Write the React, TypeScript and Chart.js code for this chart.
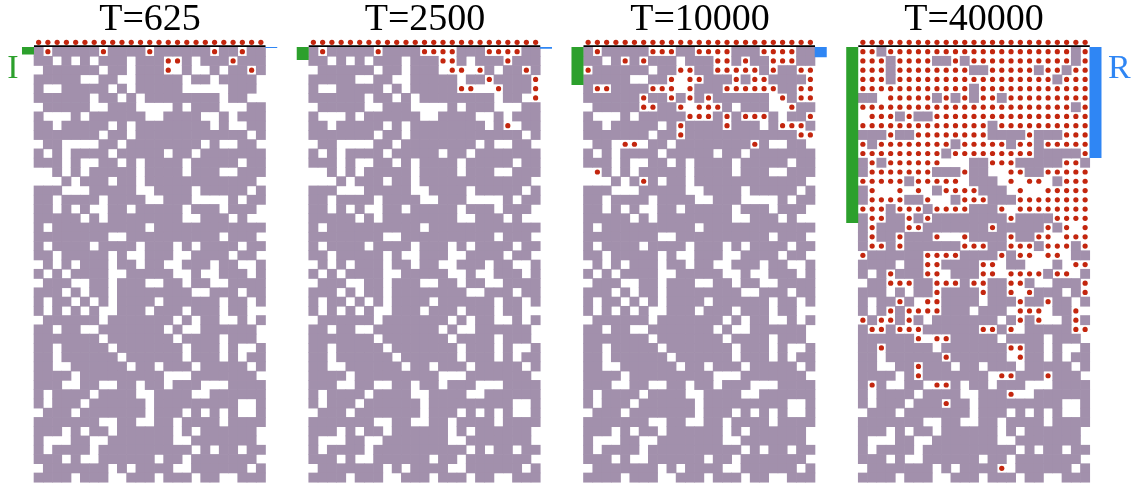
import React, { useEffect, useRef } from "react";
import { Chart, registerables } from "chart.js";

Chart.register(...registerables);

// ---------- data ----------
const TITLES = ["T=625", "T=2500", "T=10000", "T=40000"];
// depth of the green "I" bar and blue "R" bar, in lattice rows
const I_DEPTH = [0.8, 1.4, 4.1, 19.0];
const R_DEPTH = [0.12, 0.2, 1.1, 12.0];
const N_COLS = 25;

// substrate ('#' occupied, '.' empty) as seen at T=625
const BASE_GRID = [
  "#.#####.####.######.##.##",
  "##.#.#.###.###..#.###.###",
  ".######.##.###..#..#.##.#",
  "#####..##..#####.##.####.",
  "#..#####.#.#####.....###.",
  "######.##.#.########.##..",
  ".#####..###....#.###...##",
  "#...#.######..####..#.###",
  "##.#####.#.########.#..##",
  "#######.##.############.#",
  ".##....##.########.#..##.",
  "#.#.####.#####.##.#######",
  "###.#..##.#.####.#####.##",
  "..#.#.#####.####.###..###",
  "...#.###.##.############.",
  "###...#####..####.#####.#",
  "##.####.####..###....#.##",
  "##.#.#..##.#####.###.###.",
  "#####.#.########..###.#..",
  "#.##########.############",
  "########..##########.###.",
  "#.####.####.###.#.####.##",
  "##.#####.#..###..####.##.",
  ".#.#.###.##.##..###.##..#",
  "#.#.####..#####..#..###.#",
  ".###..##.###..##.##..####",
  "###.#.##.########..###.##",
  "#.##.#.#.####.######.##.#",
  "#.#.#.#..###.###.###.##..",
  ".######.#######.#.##..#.#",
  "##.##..#######.#..######.",
  "#######.#######.####.###.",
  "##.#####.#######.###.#..#",
  "##.######.######.###.#.##",
  "##..######.##.###.#####.#",
  "####.#########...#######.",
  "###..##..##.##.###...####",
  "#.####.####..####..######",
  "#.###.######.#########..#",
  ".###.#######.###.#.#.#..#",
  "#######..##..##.####.####",
  "###.#.##.######.#.######.",
  "#...##..#######..#######.",
  "#.####.##########.#.##.##",
  "###.#..######.##.#######.",
  ".#######.#.####..######.#",
  "####.###..###.###.##..###",
];

// red particles: one string of column indices per lattice row (row 0 = top)
const DOTS_T625 = ["1 7 12 19 22", "14 15 21", "14 23"];
const DOTS_T2500 = [
  "1 7 12 13 14 15 19 20 21 22",
  "14 15 21",
  "15 16 18 23",
  "19 24",
  "16 17 20 24",
  "24",
  "",
  "",
  "21",
];
const DOTS_T10000 = [
  "1 7 8 9 12 13 14 15 19 20 21 22",
  "4 6 14 15 17 20 21 22",
  "0 10 11 14 15 16 17 18 20 23 24",
  "9 11 12 16 18 19 24",
  "1 2 7 8 9 11 15 16 17 18 19 20 23 24",
  "6 9 11 13 21 23 24",
  "6 7 10 12 13 14 22",
  "11 12 13 15 17 18 19 24",
  "10 15 21 22 23",
  "10 23 24",
  "4 5 18",
  "",
  "",
  "1",
  "6",
];

// T=40000 upper region read cell by cell ('o' particle, '#' occupied, '.' empty)
const T40000_TOP = [
  "oo#oooooooooooooooooooo#o",
  "ooo#oooo##o#ooooooooooo#o",
  "ooo#oooooooo##ooooo#oo#oo",
  "ooo#ooooooooooooooooo#ooo",
  "oooooooooooo#oooooooooooo",
  "##.ooooo#o#o#oo#ooooooooo",
  "ooooooooooooooooooooooo#o",
  ".ooo#o##ooooooooooooooooo",
  "oooooooooooooo#oooooooooo",
  "###o##oooooooo####o###ooo",
  "o#oooooooo#ooooo#oo#ooooo",
  "ooooooooo#ooooooooo#####o",
  "#o#oooooo...##ooo#####oo#",
  "#ooooooo###o##..oo##ooooo",
  "ooooo#ooooo.###.o.oo.#ooo",
  "#o..o.o.#oooo###.o..ooooo",
  "#oooo##o..#ooo###oooooooo",
  "ooo#ooo#oooo###o.oooooooo",
  "#oo##o#o########o####oooo",
  "#o###oo#######o#####o#o.o",
  "#o##o###o..o####o##oo.ooo",
  "#oo#o######ooo##ooo#ooo#o",
  "o######oooo####o#oo.oo.##",
  "####.##oo####oo.##...#.oo",
];
// T=40000 particles below that region (row 24 onwards)
const DOTS_T40000_LOWER = [
  "3 7 8 13 14 16 17 18 19 21 22",
  "3 4 5 8 9 10 12 13 16 17 24",
  "8 13 16 18 24",
  "4 7 8 17 20",
  "3 5 6 7 8 17 18 19 23",
  "0 2 3 5 17 19 23",
  "1 2 4 5 6 13 14 16 23 24",
  "6 8 9",
  "2 16 17",
  "9 17",
  "6",
  "6 15 16 20",
  "1 8 9",
  "16",
  "9",
  "",
  "",
  "",
  "",
  "",
  "",
  "15",
];

// ---------- styling ----------
const PURPLE = "#a290ac";
const RED = "#c3260e";
const GREEN = "#2ca02c";
const BLUE = "#2f86f4";
const CELL_PX = 9.26;

type P = { x: number; y: number };

function parseCols(s: string): number[] {
  return s.trim() === "" ? [] : s.trim().split(/\s+/).map(Number);
}

function buildPanel(p: number): { cells: P[]; dots: P[] } {
  const cells: P[] = [];
  const dots: P[] = [];
  // particle reservoir row above the surface
  for (let c = 0; c < N_COLS; c++) dots.push({ x: c + 0.5, y: -0.5 });
  const dotRows = [DOTS_T625, DOTS_T2500, DOTS_T10000][p];
  for (let r = 0; r < BASE_GRID.length; r++) {
    let rowDots = new Set<number>();
    let rowStr = BASE_GRID[r];
    if (p === 3) {
      if (r < T40000_TOP.length) {
        rowStr = T40000_TOP[r];
      } else {
        rowDots = new Set(parseCols(DOTS_T40000_LOWER[r - T40000_TOP.length] || ""));
      }
    } else {
      rowDots = new Set(parseCols(dotRows[r] || ""));
    }
    for (let c = 0; c < N_COLS; c++) {
      const ch = rowStr[c];
      if (ch === "o" || rowDots.has(c)) {
        dots.push({ x: c + 0.5, y: r + 0.5 });
      } else if (ch === "#") {
        cells.push({ x: c + 0.5, y: r + 0.5 });
      }
    }
  }
  return { cells, dots };
}

// canvas placement (layout only)
const PANEL_LEFT = [34, 308.75, 583.5, 858.25];
const MARGIN = [34, 34, 34, 41];
const GRID_W = N_COLS * CELL_PX;
const PAGE_H = 483;
const GRID_TOP = 47;
const AREA_TOP = 40;

export default function App() {
  const refs = [useRef<HTMLCanvasElement>(null), useRef<HTMLCanvasElement>(null), useRef<HTMLCanvasElement>(null), useRef<HTMLCanvasElement>(null)];

  const geom = PANEL_LEFT.map((L, p) => {
    const left = Math.round(L - MARGIN[p]);
    const width = Math.round(GRID_W + 2 * MARGIN[p]);
    return { left, width, g: L - left };
  });

  useEffect(() => {
    const charts: Chart[] = [];
    for (let p = 0; p < 4; p++) {
      const canvas = refs[p].current;
      if (!canvas) continue;
      const { cells, dots } = buildPanel(p);
      const { width, g } = geom[p];
      const xMin = -g / CELL_PX;
      const xMax = (width - g) / CELL_PX;
      const yMin = -(GRID_TOP - AREA_TOP) / CELL_PX;
      const yMax = (PAGE_H - GRID_TOP) / CELL_PX;
      const side = p === 0 ? { text: "I", color: GREEN, x: -2.27, y: 3.3 } : p === 3 ? { text: "R", color: BLUE, x: 28.2, y: 3.3 } : null;
      const labelPlugin = {
        id: "sideLabel" + p,
        afterDatasetsDraw(chart: any) {
          if (!side) return;
          const { ctx } = chart;
          ctx.save();
          ctx.font = '34px "Liberation Serif", "Times New Roman", serif';
          ctx.fillStyle = side.color;
          ctx.textAlign = "center";
          ctx.textBaseline = "alphabetic";
          ctx.fillText(side.text, chart.scales.x.getPixelForValue(side.x), chart.scales.y.getPixelForValue(side.y));
          ctx.restore();
        },
      };
      const chart = new Chart(canvas, {
        type: "scatter",
        data: {
          datasets: [
            {
              label: "particles",
              data: dots,
              pointStyle: "circle",
              pointRadius: 2.6,
              pointHoverRadius: 2.6,
              backgroundColor: RED,
              borderWidth: 0,
              order: 1,
              clip: false,
            } as any,
            {
              type: "line",
              label: "surface",
              data: [
                { x: 0, y: -0.1 },
                { x: N_COLS, y: -0.1 },
              ],
              borderColor: "#000",
              borderWidth: 1.8,
              pointRadius: 0,
              showLine: true,
              order: 2,
              clip: false,
            } as any,
            {
              type: "line",
              label: "I",
              data: [
                { x: -0.65, y: 0 },
                { x: -0.65, y: I_DEPTH[p] },
              ],
              borderColor: GREEN,
              borderWidth: 12,
              borderCapStyle: "butt",
              pointRadius: 0,
              showLine: true,
              order: 3,
              clip: false,
            } as any,
            {
              type: "line",
              label: "R",
              data: [
                { x: N_COLS + 0.62, y: 0 },
                { x: N_COLS + 0.62, y: R_DEPTH[p] },
              ],
              borderColor: BLUE,
              borderWidth: 12,
              borderCapStyle: "butt",
              pointRadius: 0,
              showLine: true,
              order: 3,
              clip: false,
            } as any,
            {
              label: "occupied",
              data: cells,
              pointStyle: "rect",
              pointRadius: 7.0,
              pointHoverRadius: 7.0,
              backgroundColor: PURPLE,
              borderWidth: 0,
              order: 5,
              clip: false,
            } as any,
          ],
        },
        options: {
          responsive: false,
          animation: false,
          events: [],
          layout: { padding: 0, autoPadding: false },
          plugins: {
            legend: { display: false },
            tooltip: { enabled: false },
            title: {
              display: true,
              text: TITLES[p],
              color: "#000",
              padding: 0,
              font: {
                family: '"Liberation Serif", "Times New Roman", serif',
                size: 38,
                weight: "normal",
                lineHeight: AREA_TOP / 38,
              },
            },
          },
          scales: {
            x: { type: "linear", min: xMin, max: xMax, display: false },
            y: { type: "linear", min: yMin, max: yMax, reverse: true, display: false },
          },
        } as any,
        plugins: [labelPlugin],
      });
      charts.push(chart);
    }
    return () => charts.forEach((c) => c.destroy());
  }, []);

  return (
    <div style={{ position: "absolute", left: 0, top: 0, width: 1131, height: PAGE_H, background: "#fff", overflow: "hidden" }}>
      {geom.map((gm, p) => (
        <canvas
          key={p}
          ref={refs[p]}
          width={gm.width}
          height={PAGE_H}
          style={{ position: "absolute", left: gm.left, top: 0, width: gm.width, height: PAGE_H, display: "block" }}
        />
      ))}
    </div>
  );
}
